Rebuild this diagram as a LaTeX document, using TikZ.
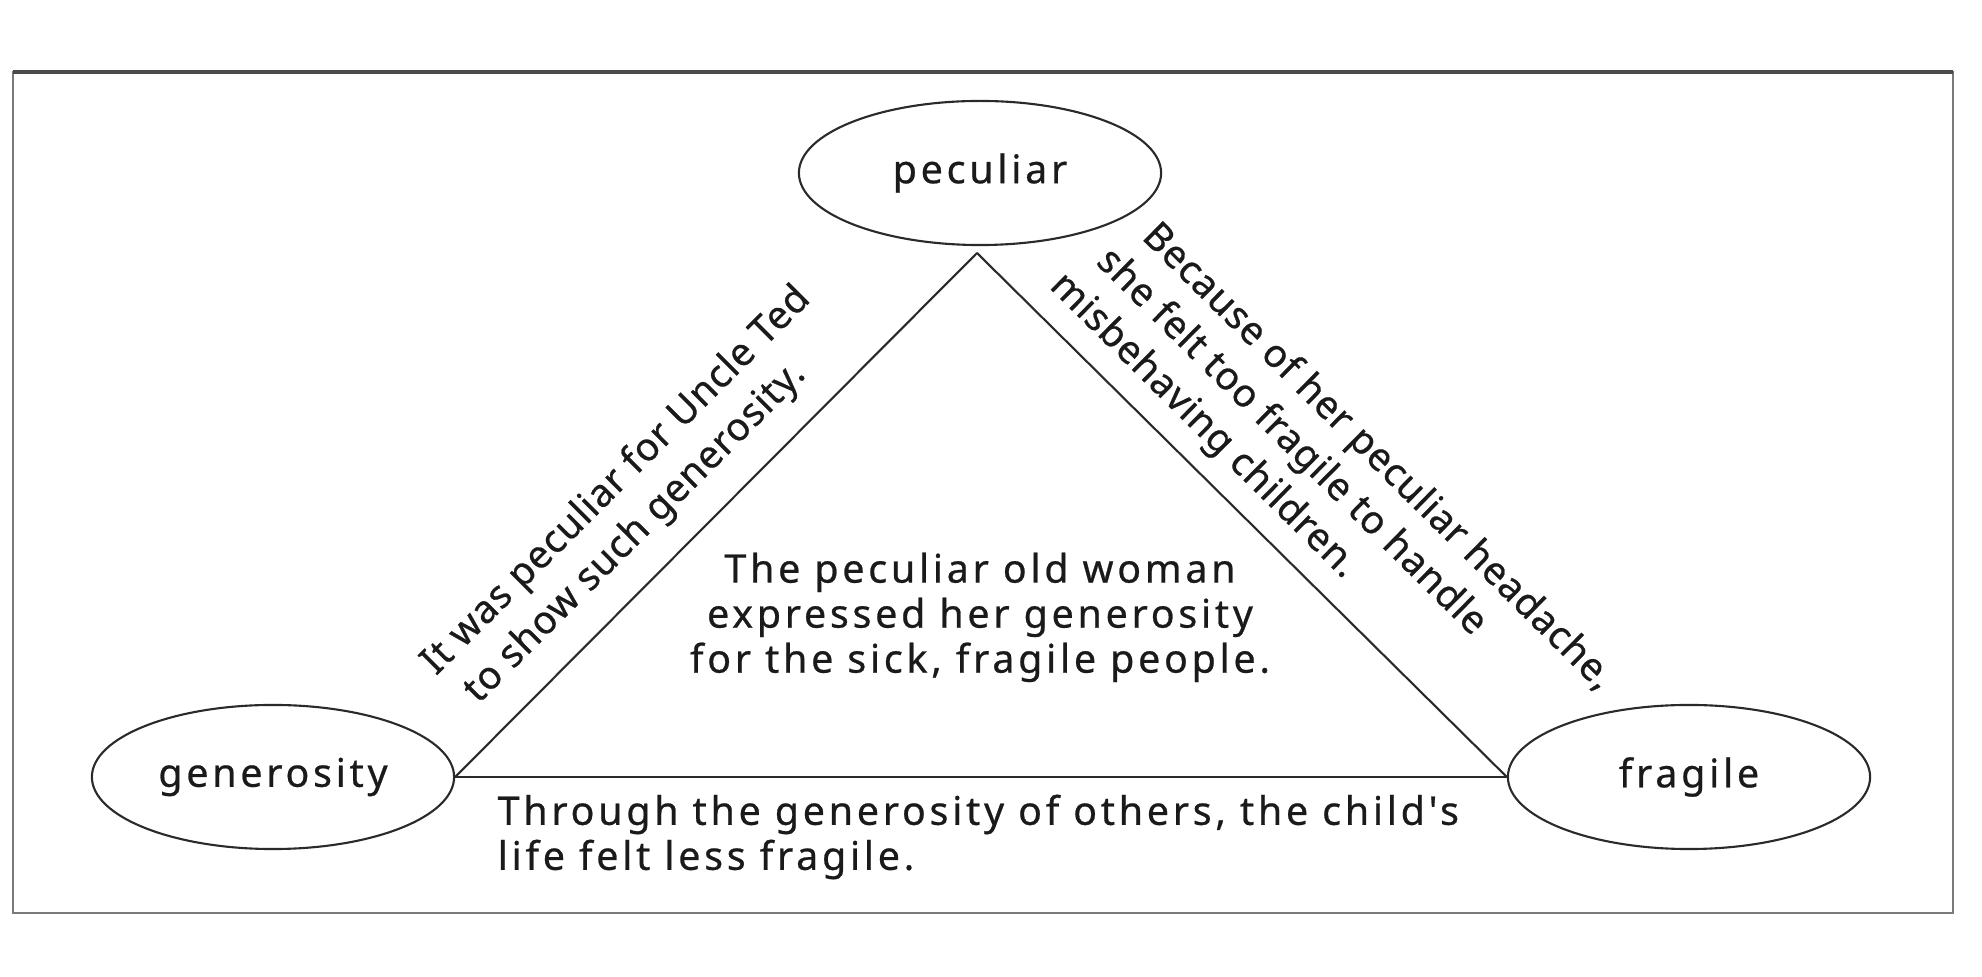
\documentclass[tikz,border=0pt]{standalone}
\usepackage{fontspec}
\setmainfont{Noto Sans}
\newfontfamily\hfont[LetterSpace=9.5,FakeBold=0.6]{Noto Sans}
\newfontfamily\rfont[LetterSpace=2,FakeBold=0.6]{Noto Sans}
\usetikzlibrary{shapes.geometric}
\definecolor{linecol}{HTML}{2A2A2A}
\definecolor{txtcol}{HTML}{1A1A1A}
\definecolor{framecol}{HTML}{7A7A7A}
\begin{document}
\begin{tikzpicture}[x=0.01cm,y=-0.01cm,
  term/.style={ellipse, draw=linecol, line width=0.6pt, minimum width=3.62cm,
    minimum height=1.44cm, inner sep=0pt, font=\hfont\fontsize{11.2pt}{13pt}\selectfont, text=txtcol},
  tri/.style={draw=linecol, line width=0.6pt},
  htext/.style={inner sep=0pt, font=\hfont\fontsize{11.2pt}{12.8pt}\selectfont, text=txtcol},
  rtext/.style={inner sep=0pt, align=left, font=\rfont\fontsize{11pt}{14.2pt}\selectfont, text=txtcol}]
\useasboundingbox (0,0) rectangle (1982,977);
% frame
\draw[framecol, line width=0.6pt] (13,72) rectangle (1953,913);
\draw[linecol!85, line width=1.4pt] (13,72) -- (1953,72);
% term nodes
\node[term] (pec) at (980,173) {peculiar};
\node[term] (gen) at (273,777) {generosity};
\node[term] (fra) at (1689,777) {fragile};
\coordinate (apex) at (977,253);
% triangle
\draw[tri] (gen.east) -- (fra.west);
\draw[tri] (gen.east) -- (apex);
\draw[tri] (apex) -- (fra.west);
% texts
\node[htext, align=center, anchor=north] (mid) at (980,552)
  {The peculiar old woman\\expressed her generosity\\for the sick, fragile people.};
\node[htext, align=left, anchor=north west] (bot) at (497,794)
  {Through the generosity of others, the child's\\life felt less fragile.};
\node[rtext, rotate=45, anchor=south west] (lt) at (478,719)
  {It was peculiar for Uncle Ted\\\hspace*{0.1cm}to show such generosity.};
\node[rtext, rotate=-44.7, anchor=south west] (rt) at (1041,294)
  {\hspace*{0.31cm}Because of her peculiar headache,\\\hspace*{0.16cm}she felt too fragile to handle\\misbehaving children.};
\end{tikzpicture}
\end{document}
